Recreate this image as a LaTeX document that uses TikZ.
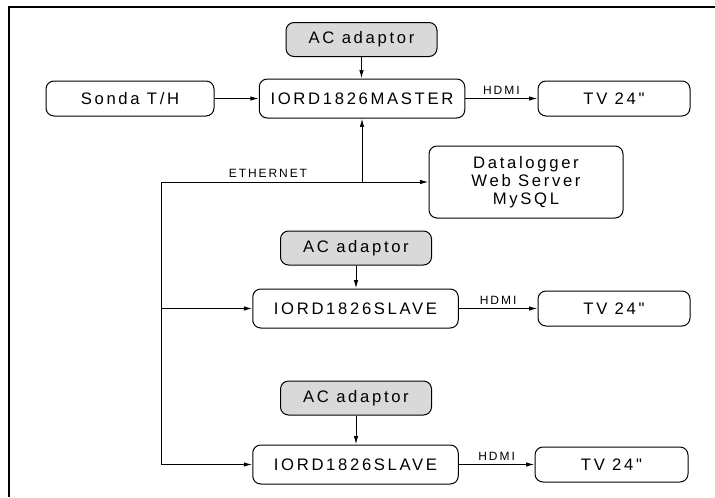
\documentclass[tikz,border=0pt]{standalone}
\usepackage{fontspec}
\setmainfont{Liberation Sans}[LetterSpace=16, Ligatures=TeXOff]
\usetikzlibrary{arrows.meta}
\definecolor{adaptgray}{HTML}{D9D9D9}

\begin{document}
\begin{tikzpicture}[x=0.6pt, y=-0.6pt,
        box/.style={draw, line width=0.6pt, rounded corners=4.8pt, inner sep=0pt,
            font=\fontsize{10}{10.8}\selectfont, align=center},
        adaptor/.style={box, fill=adaptgray, minimum width=90.6pt, minimum height=20.4pt},
        board/.style={box, minimum width=123.3pt, minimum height=23.4pt},
        tvbox/.style={box, minimum width=91.2pt, minimum height=21pt},
        wire/.style={line width=0.6pt, -{Latex[length=5pt, width=2.6pt]}},
        tag/.style={font=\fontsize{7.2}{8}\selectfont, inner sep=1pt}]
    % frame
    \useasboundingbox (0,0) rectangle (715,497);
    \draw[line width=1.2pt] (9,497) -- (9,7) -- (715,7);

    % master row
    \node[adaptor] (ac1) at (361.5,39.5) {AC adaptor};
    \node[board] (master) at (362,98.5) {IORD1826MASTER};
    \node[box, minimum width=100.8pt, minimum height=21pt] (sonda) at (130,98.5) {Sonda T/H};
    \node[tvbox] (tv1) at (614,98.5) {TV 24"};
    \node[box, minimum width=116.4pt, minimum height=43.2pt] (logger) at (526,182)
        {Datalogger\\Web Server\\MySQL};

    % slaves
    \node[adaptor] (ac2) at (356,248) {AC adaptor};
    \node[board] (slave1) at (355.5,308.5) {IORD1826SLAVE};
    \node[tvbox] (tv2) at (614,308.5) {TV 24"};
    \node[adaptor] (ac3) at (356,398) {AC adaptor};
    \node[board] (slave2) at (355.5,464.5) {IORD1826SLAVE};
    \node[tvbox, minimum width=91.8pt] (tv3) at (611.5,464.5) {TV 24"};

    % ethernet bus
    \coordinate (bus) at (161,182);
    \coordinate (tap) at (362,182);
    \draw[wire] (bus) -- (logger.west);
    \draw[wire] (tap) -- (master.south);
    \draw[wire] (bus) |- (slave2.west);
    \draw[wire] (bus |- slave1.west) -- (slave1.west);
    \node[tag, anchor=base] (eth) at (268,177) {ETHERNET};

    % power and video
    \draw[wire] (ac1) -- (ac1 |- master.north);
    \draw[wire] (ac2) -- (ac2 |- slave1.north);
    \draw[wire] (ac3) -- (ac3 |- slave2.north);
    \draw[wire] (sonda) -- (master);
    \draw[wire] (master) -- (tv1) node[tag, midway, above=1pt] (hdmi1) {HDMI};
    \draw[wire] (slave1) -- (tv2) node[tag, midway, above=1pt] (hdmi2) {HDMI};
    \draw[wire] (slave2) -- (tv3) node[tag, midway, above=1pt] (hdmi3) {HDMI};
\end{tikzpicture}
\end{document}
